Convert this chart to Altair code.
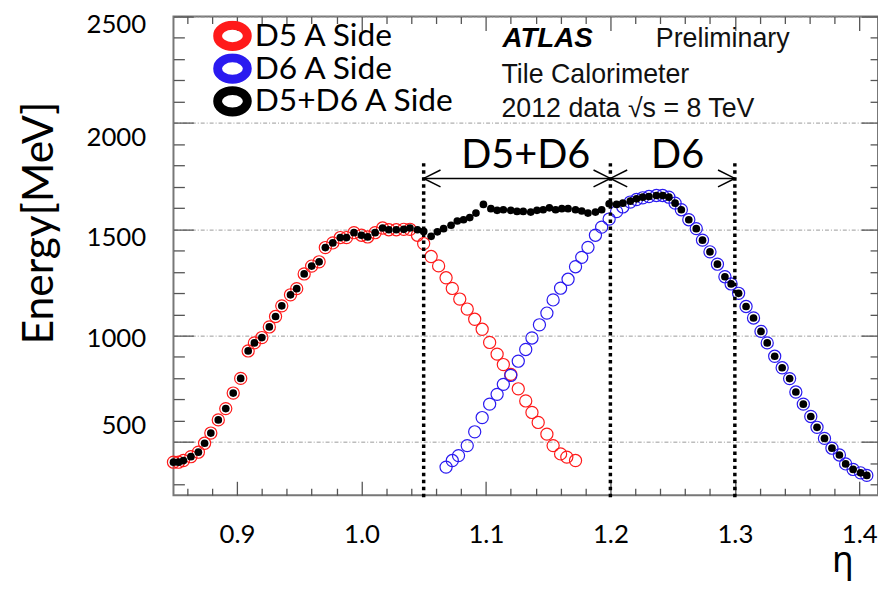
import altair as alt
import pandas as pd

# ---------------- data ----------------
eta_sum = [0.849, 0.853, 0.857, 0.863, 0.869, 0.874, 0.879, 0.885, 0.891, 0.897,
           0.903, 0.909, 0.914, 0.920, 0.926, 0.931, 0.936, 0.943, 0.948, 0.954,
           0.960, 0.966, 0.971, 0.977, 0.983, 0.988, 0.994, 1.000, 1.005, 1.011,
           1.017, 1.022, 1.028, 1.034, 1.039, 1.045, 1.050, 1.056, 1.061, 1.066,
           1.072, 1.077, 1.082, 1.087, 1.092, 1.098, 1.104, 1.109, 1.114, 1.120,
           1.125, 1.130, 1.136, 1.141, 1.146, 1.151, 1.156, 1.161, 1.166, 1.172,
           1.177, 1.182, 1.188, 1.193, 1.199, 1.205, 1.210, 1.216, 1.221, 1.226,
           1.231, 1.237, 1.242, 1.247, 1.252, 1.257, 1.263, 1.269, 1.274, 1.280,
           1.286, 1.292, 1.297, 1.303, 1.309, 1.315, 1.321, 1.326, 1.332, 1.338,
           1.344, 1.349, 1.355, 1.361, 1.366, 1.372, 1.378, 1.384, 1.389, 1.395,
           1.401, 1.406]
e_sum = [405, 405, 413, 431, 452, 494, 542, 604, 657, 730,
         799, 928, 966, 991, 1041, 1090, 1140, 1192, 1221, 1290,
         1327, 1347, 1414, 1436, 1461, 1461, 1484, 1472, 1464, 1484,
         1506, 1498, 1498, 1500, 1506, 1498, 1490, 1467, 1488, 1503,
         1519, 1539, 1545, 1555, 1576, 1617, 1597, 1589, 1592, 1589,
         1584, 1584, 1581, 1589, 1592, 1601, 1592, 1597, 1597, 1592,
         1586, 1576, 1581, 1592, 1620, 1617, 1623, 1632, 1643, 1651,
         1654, 1659, 1659, 1651, 1623, 1592, 1545, 1503, 1449, 1394,
         1336, 1277, 1243, 1199, 1137, 1083, 1020, 966, 903, 849,
         798, 735, 678, 620, 569, 517, 471, 439, 397, 371,
         355, 343]

eta_d5 = [0.849, 0.853, 0.857, 0.863, 0.869, 0.874, 0.879, 0.885, 0.891, 0.897,
          0.903, 0.909, 0.914, 0.920, 0.926, 0.931, 0.936, 0.943, 0.948, 0.954,
          0.960, 0.966, 0.971, 0.977, 0.983, 0.988, 0.994, 1.000, 1.005, 1.011,
          1.017, 1.022, 1.028, 1.034, 1.039, 1.045, 1.050, 1.056, 1.062, 1.068,
          1.073, 1.079, 1.085, 1.091, 1.097, 1.103, 1.109, 1.114, 1.120, 1.126,
          1.132, 1.137, 1.142, 1.149, 1.154, 1.160, 1.165, 1.172]
e_d5 = [405, 405, 413, 431, 452, 494, 542, 604, 657, 730,
        799, 928, 966, 991, 1041, 1090, 1140, 1192, 1221, 1290,
        1327, 1347, 1414, 1436, 1461, 1461, 1484, 1472, 1464, 1484,
        1506, 1498, 1498, 1500, 1500, 1472, 1433, 1372, 1328, 1272,
        1222, 1172, 1125, 1077, 1030, 968, 913, 864, 818, 750,
        693, 639, 592, 537, 483, 444, 429, 413]

eta_d6 = [1.068, 1.073, 1.078, 1.085, 1.091, 1.097, 1.103, 1.109, 1.114, 1.120,
          1.126, 1.132, 1.137, 1.143, 1.149, 1.154, 1.160, 1.166, 1.172, 1.177,
          1.182, 1.188, 1.193, 1.199, 1.205, 1.210, 1.216, 1.221, 1.226, 1.231,
          1.237, 1.242, 1.247, 1.252, 1.257, 1.263, 1.269, 1.274, 1.280, 1.286,
          1.292, 1.297, 1.303, 1.309, 1.315, 1.321, 1.326, 1.332, 1.338, 1.344,
          1.349, 1.355, 1.361, 1.366, 1.372, 1.378, 1.384, 1.389, 1.395, 1.401,
          1.406]
e_d6 = [382, 413, 436, 483, 548, 615, 678, 724, 771, 813,
        880, 935, 989, 1051, 1106, 1168, 1223, 1265, 1324, 1368,
        1415, 1472, 1510, 1548, 1583, 1605, 1628, 1640, 1648, 1654,
        1659, 1659, 1651, 1623, 1592, 1545, 1503, 1449, 1394, 1336,
        1277, 1243, 1199, 1137, 1083, 1020, 966, 903, 849, 798,
        735, 678, 620, 569, 517, 471, 439, 397, 371, 355,
        343]

legend_names = ["D5 A Side", "D6 A Side", "D5+D6 A Side"]
legend_colors = ["#ff1a1a", "#2a1af0", "#000000"]

x_major = [0.9, 1.0, 1.1, 1.2, 1.3, 1.4]
x_minor = [0.86, 0.88, 0.92, 0.94, 0.96, 0.98, 1.02, 1.04, 1.06, 1.08,
           1.12, 1.14, 1.16, 1.18, 1.22, 1.24, 1.26, 1.28, 1.32, 1.34,
           1.36, 1.38]
y_major = [500, 1000, 1500, 2000, 2500]
y_minor = [300, 400, 600, 700, 800, 900, 1100, 1200, 1300, 1400,
           1600, 1700, 1800, 1900, 2100, 2200, 2300, 2400]

region_edges = [1.05, 1.2, 1.3]
region_top, region_bottom = 1811, 236
arrow_level = 1739
arrow_from = [1.05, 1.2]
arrow_to = [1.2, 1.3]
region_labels = ["D5+D6", "D6"]
region_label_x = [1.132, 1.254]
region_label_y = 1790

atlas_lines = ["Preliminary", "Tile Calorimeter", "2012 data \u221as = 8 TeV"]
atlas_x = [1.2365, 1.1125, 1.1125]
atlas_y = [2358, 2187, 2027]

# ---------------- chart ----------------
W, H = 711, 483
xs = alt.Scale(domain=[0.849, 1.415], nice=False, zero=False)
ys = alt.Scale(domain=[250, 2500], nice=False, zero=False)

TICK = "#555555"


def tick_axis(orient, offset, values, size):
    return alt.Axis(orient=orient, offset=offset, values=values, ticks=True,
                    tickSize=size, tickColor=TICK, tickWidth=1.3, labels=False,
                    domain=False, grid=False, title=None)


main_x = alt.Axis(orient="bottom", values=x_major, format=".1f", labelFont="Lato",
                  labelFontSize=26, labelColor="black", labelPadding=27,
                  ticks=False, tickSize=0, domain=False, grid=False, labelFlush=False,
                  title="\u03b7", titleFont="Noto Sans", titleFontSize=36,
                  titleFontWeight="normal", titleColor="black", titleX=675, titleY=77,
                  titleAlign="center", titleBaseline="alphabetic")
main_y = alt.Axis(orient="left", values=y_major, format="d", labelFont="Lato",
                  labelFontSize=26, labelColor="black", labelPadding=28,
                  labelOffset={"condition": [
                      {"test": "datum.value == 2500", "value": 8},
                      {"test": "datum.value == 2000", "value": 15},
                      {"test": "datum.value == 1500", "value": 8},
                      {"test": "datum.value == 1000", "value": 3}], "value": -17},
                  ticks=False, tickSize=0, domain=False, grid=True,
                  gridColor="#9a9a9a", gridDash=[4, 2, 1, 2], gridWidth=1,
                  title="Energy[MeV]", titleFont="Lato", titleFontSize=43,
                  titleFontWeight="normal", titleColor="black", titleAngle=270,
                  titleX=-122, titleY=208, titleAlign="center",
                  titleBaseline="alphabetic")

n5, n6 = len(eta_d5), len(eta_d6)
circ_df = pd.DataFrame({"eta": eta_d5 + eta_d6, "E": e_d5 + e_d6,
                        "series": [legend_names[0]] * n5 + [legend_names[1]] * n6})
ellipse = "M-1,0A1,0.72 0 1,1 1,0A1,0.72 0 1,1 -1,0Z"

circles = alt.Chart(circ_df).mark_point(filled=False, size=150, strokeWidth=1.2,
                                        opacity=1).encode(
    x=alt.X("eta:Q", scale=xs, axis=main_x),
    y=alt.Y("E:Q", scale=ys, axis=main_y),
    color=alt.Color("series:N",
                    scale=alt.Scale(domain=legend_names, range=legend_colors),
                    legend=alt.Legend(title=None, orient="none", legendX=40, legendY=4,
                                      symbolType=ellipse, symbolSize=900,
                                      symbolStrokeWidth=9, symbolOpacity=1,
                                      labelFont="Lato", labelFontSize=32,
                                      labelColor="black", rowPadding=0,
                                      clipHeight=31, labelLimit=0,
                                      labelOffset=3, padding=0)),
)

sum_df = pd.DataFrame({"eta": eta_sum, "E": e_sum})
dots = alt.Chart(sum_df).mark_circle(size=60, color="black", opacity=1).encode(
    x=alt.X("eta:Q", scale=xs, axis=tick_axis("top", -H, x_major, 14)),
    y=alt.Y("E:Q", scale=ys, axis=tick_axis("right", -W, y_major, 20)),
)

vl_df = pd.DataFrame({"eta": region_edges, "top": [region_top] * 3,
                      "bottom": [region_bottom] * 3})
vlines = alt.Chart(vl_df).mark_rule(color="black", strokeWidth=3.5,
                                    strokeDash=[3.5, 3.6]).encode(
    x=alt.X("eta:Q", scale=xs, axis=tick_axis("top", -H, x_minor, 7)),
    y=alt.Y("top:Q", scale=ys, axis=tick_axis("right", -W, y_minor, 11)),
    y2="bottom:Q",
)

arr_df = pd.DataFrame({"x1": arrow_from, "x2": arrow_to, "y": [arrow_level] * 2})
arrows = alt.Chart(arr_df).mark_rule(color="black", strokeWidth=1.5).encode(
    x=alt.X("x1:Q", scale=xs, axis=tick_axis("bottom", -H, x_major, 14)),
    x2="x2:Q",
    y=alt.Y("y:Q", scale=ys, axis=tick_axis("left", -W, y_major, 17)),
)

head_df = pd.DataFrame({"eta": arrow_from + arrow_to, "E": [arrow_level] * 4,
                        "dir": ["left", "left", "right", "right"]})
heads = alt.Chart(head_df).mark_point(filled=False, color="black", strokeWidth=1.5,
                                      size=289, opacity=1).encode(
    x=alt.X("eta:Q", scale=xs, axis=tick_axis("bottom", -H, x_minor, 7)),
    y=alt.Y("E:Q", scale=ys, axis=tick_axis("left", -W, y_minor, 8)),
    shape=alt.Shape("dir:N", scale=alt.Scale(domain=["left", "right"],
                                            range=["M2,-1L0,0L2,1", "M-2,-1L0,0L-2,1"]),
                    legend=None),
)

rl_df = pd.DataFrame({"t": region_labels, "eta": region_label_x,
                      "E": [region_label_y] * 2})
rlabels = alt.Chart(rl_df).mark_text(font="Lato", fontSize=40, align="center",
                                     baseline="alphabetic", color="black").encode(
    x=alt.X("eta:Q", scale=xs, axis=None),
    y=alt.Y("E:Q", scale=ys, axis=None),
    text="t:N",
)

atlas_df = pd.DataFrame({"t": ["ATLAS"], "eta": [1.1133], "E": [2358]})
atlas = alt.Chart(atlas_df).mark_text(font="Liberation Sans", fontSize=28,
                                      fontWeight="bold", fontStyle="italic",
                                      align="left", baseline="alphabetic",
                                      color="black").encode(
    x=alt.X("eta:Q", scale=xs, axis=None),
    y=alt.Y("E:Q", scale=ys, axis=None),
    text="t:N",
)

info_df = pd.DataFrame({"t": atlas_lines, "eta": atlas_x, "E": atlas_y})
info = alt.Chart(info_df).mark_text(font="Liberation Sans", fontSize=27,
                                    align="left", baseline="alphabetic",
                                    color="#111111").encode(
    x=alt.X("eta:Q", scale=xs, axis=None),
    y=alt.Y("E:Q", scale=ys, axis=None),
    text="t:N",
)

chart = alt.layer(circles, dots, vlines, arrows, heads, rlabels, atlas, info).resolve_axis(
    x="independent", y="independent"
).properties(
    width=W, height=H,
    autosize=alt.AutoSizeParams(type="none"),
    padding={"left": 167, "top": 6, "right": 0, "bottom": 89},
    background="white",
).configure_view(stroke="#777777", strokeWidth=2)

chart.save("out.html", embed_options={"renderer": "svg", "actions": False})
